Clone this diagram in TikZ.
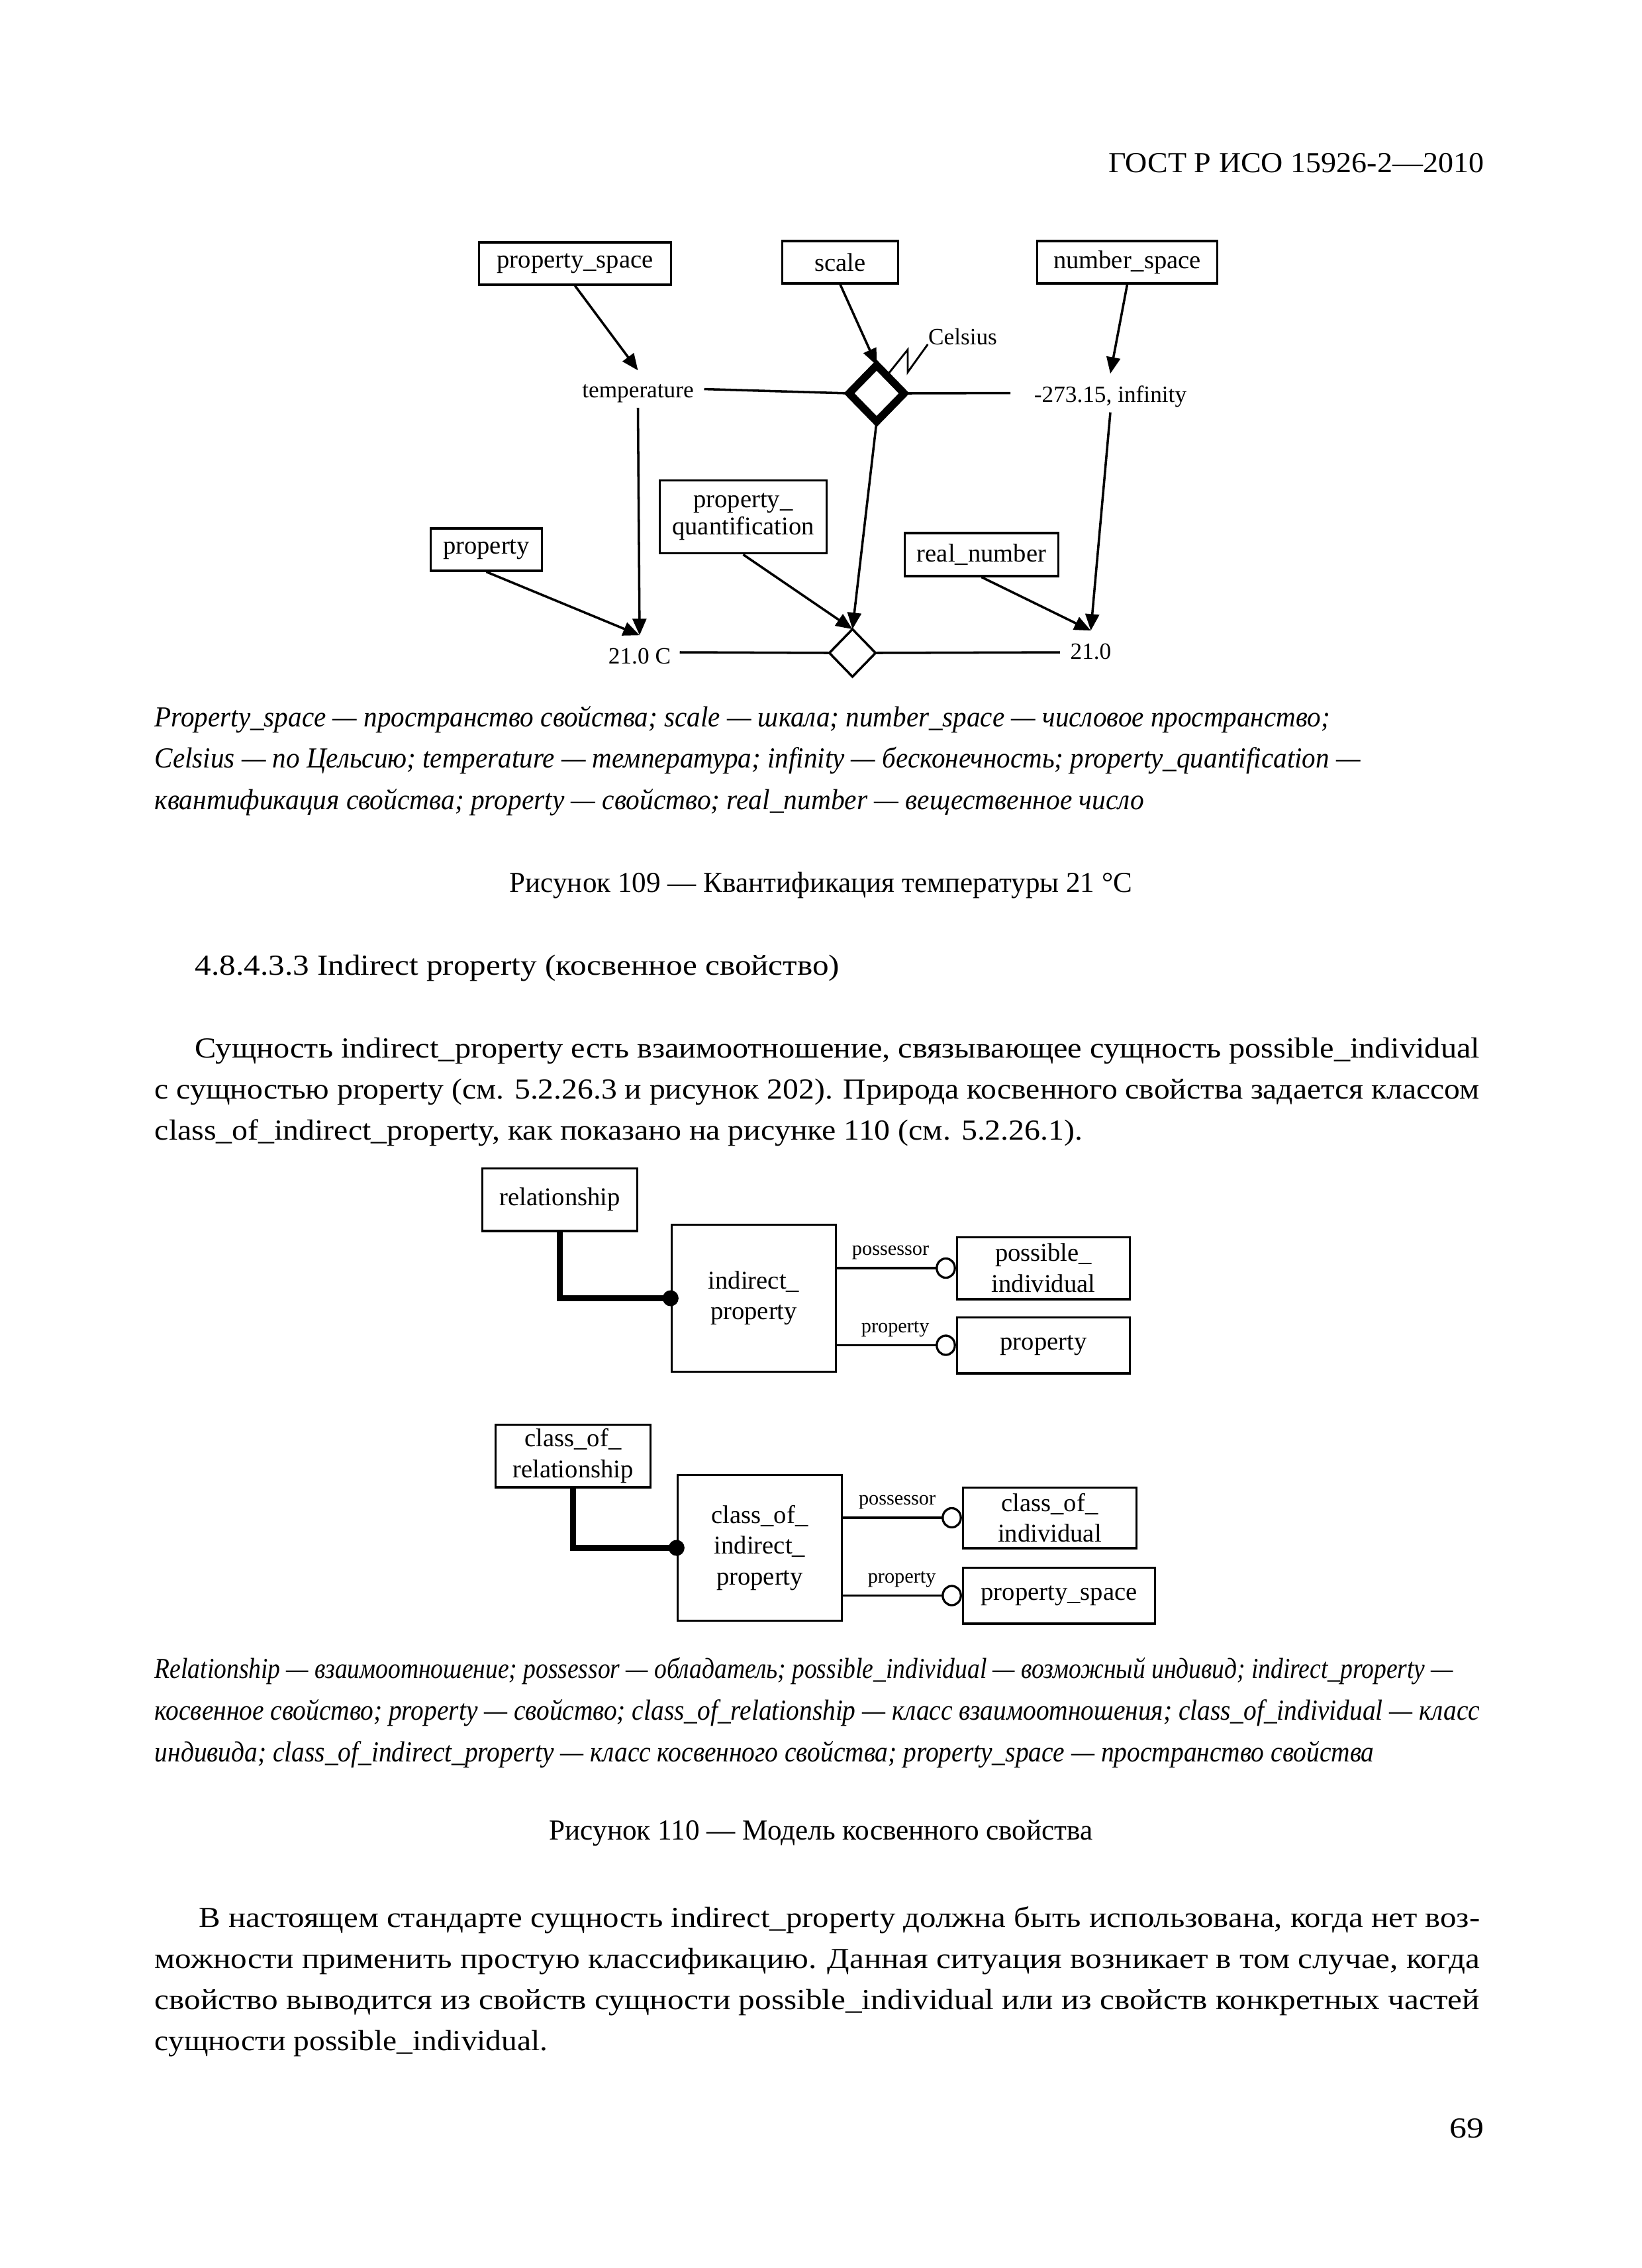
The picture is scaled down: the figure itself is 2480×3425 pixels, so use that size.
\documentclass[tikz,border=0pt]{standalone}
\usepackage{fontspec}
\setmainfont{Liberation Serif}
\usepackage{graphicx}
\usetikzlibrary{arrows.meta,shapes.geometric}
\newcommand\fitw[2]{\resizebox{#1}{0.88\height}{#2}}
\begin{document}
\begin{tikzpicture}[x=0.0084677cm,y=-0.0084677cm,
  box/.style={draw,line width=0.8pt,inner sep=0pt,align=center,font=\fontsize{9.3}{9.8}\selectfont},
  boxb/.style={draw,line width=0.8pt,inner sep=0pt,align=center,font=\fontsize{9.3}{11.2}\selectfont},
  lbl/.style={inner sep=0pt,font=\fontsize{8.5}{10}\selectfont},
  lab/.style={inner sep=2.7pt,font=\fontsize{7.3}{8}\selectfont},
  arr/.style={line width=0.85pt,-{Triangle[length=6pt,width=5pt]}},
  ln/.style={line width=0.85pt},
  ln2/.style={line width=0.8pt},
  opencirc/.style={ln2,-{Circle[open,length=7.4pt,width=7.8pt]}},
  thickln/.style={line width=2pt},
  txt/.style={inner sep=0pt,anchor=base west,font=\fontsize{12}{14}\selectfont},
  itx/.style={txt,font=\fontsize{12}{14}\selectfont\itshape},
  ctx/.style={txt,anchor=base,font=\fontsize{12}{14}\selectfont}]
\useasboundingbox (0,0) rectangle (2480,3425);

% header
\node[txt,anchor=base east] (hdr) at (2242,260) {\fitw{136.56pt}{ГОСТ Р ИСО 15926-2—2010}};

% ---------- Figure 109 ----------
\node[box,minimum width=69.84pt,minimum height=15.36pt] (ps) at (868.5,398) {property\_space};
\node[box,minimum width=42.24pt,minimum height=15.36pt] (sc) at (1269,396) {scale};
\node[box,minimum width=65.52pt,minimum height=15.36pt] (ns) at (1702.5,396) {number\_space};
\node[box,minimum width=40.56pt,minimum height=15.36pt] (pr) at (734.5,830) {property};
\node[box,minimum width=60.72pt,minimum height=26.64pt] (pq) at (1122.5,780.5) {property\_\\quantification};
\node[box,minimum width=55.92pt,minimum height=15.6pt] (rn) at (1482.5,837.5) {real\_number};

\node[lbl,anchor=base,text height=9.6pt,text depth=3.6pt,inner xsep=3.6pt] (temp) at (963.5,600) {temperature};
\node[lbl,anchor=base,text height=10.1pt,text depth=3.6pt,inner xsep=8.4pt] (inf) at (1677,607) {-273.15, infinity};
\node[lbl,anchor=base,text height=10.1pt,text depth=1.9pt,inner xsep=3.1pt] (c21) at (966,1002) {21.0 C};
\node[lbl,anchor=base,text height=10.1pt,text depth=5.3pt,inner xsep=3.6pt] (r21) at (1647.5,995) {21.0};
\node[lbl,anchor=base] (cel) at (1454,520) {Celsius};

\node[draw,diamond,line width=2.8pt,inner sep=0pt,outer sep=0pt,minimum width=20pt,minimum height=20.5pt] (td) at (1324,594) {};
\node[draw,diamond,line width=0.85pt,inner sep=0pt,outer sep=0pt,minimum width=16.8pt,minimum height=17.3pt] (sd) at (1287.5,986) {};

\draw[arr] (ps.south) -- (temp.north);
\draw[arr] (sc.south) -- (td.north);
\draw[arr] (ns.south) -- (inf.north);
\draw[arr] (td.south) -- (sd.north);
\draw[arr] (pq.south) -- (sd.north);
\draw[arr] (pr.south) -- (c21.north);
\draw[arr] (temp.south) -- (c21.north);
\draw[arr] (rn.south) -- (r21.north);
\draw[arr] (inf.south) -- (r21.north);
\draw[ln] (temp.east) -- (td.west);
\draw[ln] (td.east) -- (inf.west);
\draw[ln] (c21.east) -- (sd.west);
\draw[ln] (sd.east) -- (r21.west);
\draw[line width=0.7pt] (td.60) -- (1371,528) -- (1371,562) -- (cel.base west);

% caption 109
\node[itx] (c1a) at (233,1097) {\fitw{427.68pt}{Property\_space — пространство свойства; scale — шкала; number\_space — числовое пространство;}};
\node[itx] (c1b) at (233,1159) {\fitw{438.72pt}{Celsius — по Цельсию; temperature — температура; infinity — бесконечность; property\_quantification —}};
\node[itx] (c1c) at (233,1222) {\fitw{360pt}{квантификация свойства; property — свойство; real\_number — вещественное число}};
\node[txt] (f109) at (769,1347) {\fitw{226.56pt}{Рисунок 109 — Квантификация температуры 21 °C}};

% heading and paragraph
\node[txt] (hd) at (294,1472) {\fitw{234.48pt}{4.8.4.3.3 Indirect property (косвенное свойство)}};
\node[txt] (p1a) at (294,1597) {\fitw{467.52pt}{Сущность indirect\_property есть взаимоотношение, связывающее сущность possible\_individual}};
\node[txt] (p1b) at (233,1659) {\fitw{482.16pt}{с сущностью property (см. 5.2.26.3 и рисунок 202). Природа косвенного свойства задается классом}};
\node[txt] (p1c) at (233,1721) {\fitw{337.68pt}{class\_of\_indirect\_property, как показано на рисунке 110 (см. 5.2.26.1).}};

% ---------- Figure 110 ----------
\node[boxb,minimum width=56.4pt,minimum height=22.8pt] (rel) at (845.5,1811.5) {relationship};
\node[boxb,minimum width=59.76pt,minimum height=53.52pt] (ip) at (1138.5,1960.5) {indirect\_\\property};
\node[boxb,minimum width=62.88pt,minimum height=22.56pt] (pi) at (1576,1915) {possible\_\\individual};
\node[boxb,minimum width=62.88pt,minimum height=20.4pt] (pp) at (1576,2031.5) {property};

\draw[thickln] (rel.south) |- (ip.west);
\fill (ip.west) circle[radius=2.9pt];
\draw[opencirc] (ip.east |- pi.west) -- node[lab,pos=0.45,above] {possessor} (pi.west);
\draw[opencirc] (ip.east |- pp.west) -- node[lab,pos=0.49,above] {property} (pp.west);

\node[boxb,minimum width=56.4pt,minimum height=22.8pt] (cor) at (865.5,2198.5) {class\_of\_\\relationship};
\node[boxb,minimum width=59.76pt,minimum height=53.04pt] (cip) at (1147.5,2337.5) {class\_of\_\\indirect\_\\property};
\node[boxb,minimum width=63.12pt,minimum height=22.08pt] (coi) at (1585.5,2292) {class\_of\_\\individual};
\node[boxb,minimum width=69.84pt,minimum height=20.4pt] (psp) at (1599.5,2409.5) {property\_space};

\draw[thickln] (cor.south) |- (cip.west);
\fill (cip.west) circle[radius=2.9pt];
\draw[opencirc] (cip.east |- coi.west) -- node[lab,pos=0.456,above] {possessor} (coi.west);
\draw[opencirc] (cip.east |- psp.west) -- node[lab,pos=0.495,above] {property} (psp.west);

% caption 110
\node[itx] (c2a) at (233,2534) {\fitw{472.56pt}{Relationship — взаимоотношение; possessor — обладатель; possible\_individual — возможный индивид; indirect\_property —}};
\node[itx] (c2b) at (233,2597) {\fitw{482.16pt}{косвенное свойство; property — свойство; class\_of\_relationship — класс взаимоотношения; class\_of\_individual — класс}};
\node[itx] (c2c) at (233,2660) {\fitw{443.76pt}{индивида; class\_of\_indirect\_property — класс косвенного свойства; property\_space — пространство свойства}};
\node[txt] (f110) at (829,2778) {\fitw{197.76pt}{Рисунок 110 — Модель косвенного свойства}};

% final paragraph
\node[txt] (p2a) at (300,2910) {\fitw{466.08pt}{В настоящем стандарте сущность indirect\_property должна быть использована, когда нет воз-}};
\node[txt] (p2b) at (233,2972) {\fitw{482.16pt}{можности применить простую классификацию. Данная ситуация возникает в том случае, когда}};
\node[txt] (p2c) at (233,3034) {\fitw{482.16pt}{свойство выводится из свойств сущности possible\_individual или из свойств конкретных частей}};
\node[txt] (p2d) at (233,3096) {\fitw{143.04pt}{сущности possible\_individual.}};

\node[txt,anchor=base east] (pg) at (2242,3228) {\fitw{12.5pt}{69}};
\end{tikzpicture}
\end{document}
